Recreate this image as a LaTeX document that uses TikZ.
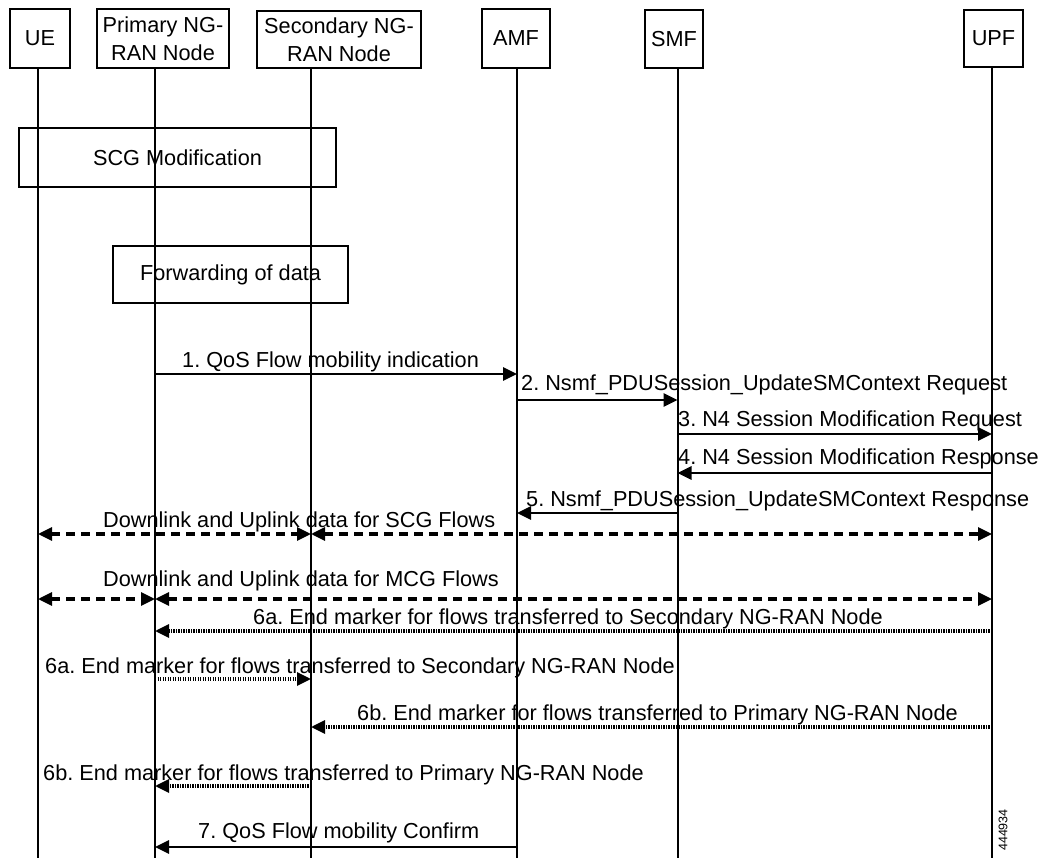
\documentclass[tikz,border=0pt]{standalone}
\usepackage{fontspec}
\setmainfont{Liberation Sans}
\usetikzlibrary{arrows.meta}
\tikzset{
  hdr/.style={draw, line width=1.8pt, inner sep=0pt, align=center},
  grpbox/.style={draw, line width=1.5pt, inner sep=0pt},
  life/.style={line width=2pt},
  tip/.tip={Triangle[length=14pt,width=13pt]},
  msg/.style={line width=2.8pt, -tip},
  dmsg/.style={line width=3.2pt, dash pattern=on 9pt off 6pt},
  dtip/.style={tip-tip},
  dotmsg/.style={line width=3.2pt, dash pattern=on 1.4pt off 1.1pt, -tip},
  lbl/.style={inner sep=0pt, anchor=base west}
}
\begin{document}
\frenchspacing
\begin{tikzpicture}[x=1pt, y=-1pt, font=\fontsize{21.7}{28}\selectfont\frenchspacing]
\useasboundingbox (0,0) rectangle (1042,858);
% headers
\node[hdr, minimum width=60pt, minimum height=59pt] (ue) at (40,38.5) {UE};
\node[hdr, minimum width=132pt, minimum height=59pt] (pri) at (163,38.5) {Primary NG-\\RAN Node};
\node[hdr, minimum width=164pt, minimum height=57pt] (sec) at (339,39.5) {Secondary NG-\\RAN Node};
\node[hdr, minimum width=68pt, minimum height=59pt] (amf) at (516,38.5) {AMF};
\node[hdr, minimum width=58pt, minimum height=58pt] (smf) at (674,39) {SMF};
\node[hdr, minimum width=59pt, minimum height=57pt] (upf) at (993.5,38.5) {UPF};
% lifeline x positions
\coordinate (ueX) at (38,0);
\coordinate (priX) at (155,0);
\coordinate (secX) at (311,0);
\coordinate (amfX) at (517,0);
\coordinate (smfX) at (677.5,0);
\coordinate (upfX) at (992,0);
\draw[life] (ue.south -| ueX) -- (ueX |- 0,858);
\draw[life] (pri.south -| priX) -- (priX |- 0,858);
\draw[life] (sec.south -| secX) -- (secX |- 0,858);
\draw[life] (amf.south -| amfX) -- (amfX |- 0,858);
\draw[life] (smf.south -| smfX) -- (smfX |- 0,858);
\draw[life] (upf.south -| upfX) -- (upfX |- 0,858);
% group boxes
\node[grpbox, minimum width=317pt, minimum height=59pt] (scg) at (177.5,157.5) {SCG Modification};
\node[grpbox, minimum width=235pt, minimum height=57pt] (fwd) at (230.5,274.5) {Forwarding of data};
% messages
\draw[msg] (priX |- 0,374) -- (amfX |- 0,374);
\node[lbl] (l1) at (182,367.7) {1. QoS Flow mobility indication};
\draw[msg] (amfX |- 0,400) -- (smfX |- 0,400);
\node[lbl] (l2) at (521,390.7) {2. Nsmf\_PDUSession\_UpdateSMContext Request};
\draw[msg] (smfX |- 0,434) -- (upfX |- 0,434);
\node[lbl] (l3) at (678,427) {3. N4 Session Modification Request};
\draw[msg] (upfX |- 0,473) -- (smfX |- 0,473);
\node[lbl] (l4) at (678,465) {4. N4 Session Modification Response};
\draw[msg] (smfX |- 0,513) -- (amfX |- 0,513);
\node[lbl] (l5) at (526,506) {5. Nsmf\_PDUSession\_UpdateSMContext Response};
% data flows
\draw[dmsg, dtip] (ueX |- 0,534) -- (secX |- 0,534);
\draw[dmsg, dtip] (secX |- 0,534) -- (upfX |- 0,534);
\node[lbl] (ls) at (103,527.5) {Downlink and Uplink data for SCG Flows};
\draw[dmsg, dtip] (ueX |- 0,599) -- (priX |- 0,599);
\draw[dmsg, dtip] (priX |- 0,599) -- (upfX |- 0,599);
\node[lbl] (lm) at (103,586.5) {Downlink and Uplink data for MCG Flows};
% end markers
\draw[dotmsg] (upfX |- 0,631) -- (priX |- 0,631);
\node[lbl] (l6a) at (253,624.5) {6a. End marker for flows transferred to Secondary NG-RAN Node};
\draw[dotmsg] (priX |- 0,679) -- (secX |- 0,679);
\node[lbl] (l6a2) at (45,673.5) {6a. End marker for flows transferred to Secondary NG-RAN Node};
\draw[dotmsg] (upfX |- 0,727) -- (secX |- 0,727);
\node[lbl] (l6b) at (357,720.5) {6b. End marker for flows transferred to Primary NG-RAN Node};
\draw[dotmsg] (secX |- 0,786) -- (priX |- 0,786);
\node[lbl] (l6b2) at (43,780.5) {6b. End marker for flows transferred to Primary NG-RAN Node};
\draw[msg] (amfX |- 0,847) -- (priX |- 0,847);
\node[lbl] (l7) at (198,838) {7. QoS Flow mobility Confirm};
\node[rotate=90, inner sep=0pt, font=\fontsize{12.5}{14}\selectfont] (fig) at (1003,830) {444934};
\end{tikzpicture}
\end{document}
